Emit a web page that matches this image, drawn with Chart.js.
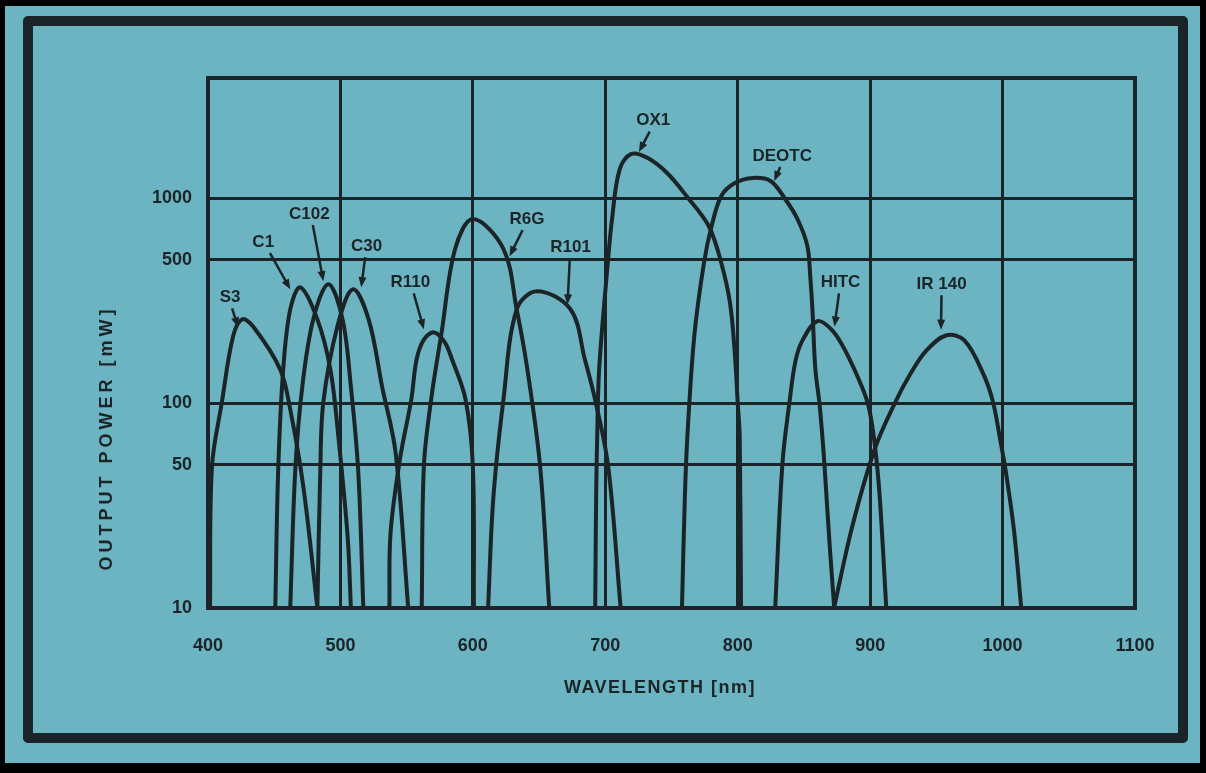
<!DOCTYPE html>
<html>
<head>
<meta charset="utf-8">
<script src="https://cdn.jsdelivr.net/npm/chart.js@4.4.1/dist/chart.umd.min.js"></script>
<style>
    html, body { margin: 0; padding: 0; background: #000; }
    canvas { display: block; }
</style>
</head>
<body>
<canvas id="dye-chart" width="1206" height="773"></canvas>
<script>
// wavelength (nm) and output power (mW)
var S3_NM = [401.5, 403, 410.6, 418.9, 425.8, 434.1, 454.5, 462.1, 472, 482.6];
var S3_MW = [10, 49, 102, 211, 256, 236, 146, 93, 39, 10];

var C1_NM = [450.8, 453.0, 456.8, 462.1, 469.7, 482.6, 492.4, 498.5, 505.5, 507.9];
var C1_MW = [10, 47, 146, 286, 367, 256, 146, 68, 22, 10];

var C102_NM = [462.1, 465.9, 471.2, 479.5, 490.9, 501.6, 507.9, 513.4, 517.3];
var C102_MW = [10, 47, 120, 256, 380, 256, 120, 47, 10];

var C30_NM = [482.6, 484.8, 487.1, 497.7, 509.4, 521.3, 531.5, 541.7, 551.2];
var C30_MW = [10, 47, 101, 236, 359, 256, 120, 57, 10];

var R110_NM = [537.0, 537.8, 544.9, 553.5, 557.5, 563.0, 570.9, 578.7, 584.3, 594.5, 600.0, 600.8];
var R110_MW = [10, 23, 53, 104, 163, 204, 221, 198, 163, 104, 49, 10];

var R6G_NM = [561.4, 563.0, 568.5, 576.4, 586.6, 600, 623.1, 633.1, 640.8, 650.8, 657.7];
var R6G_MW = [10, 49, 104, 221, 564, 789, 564, 286, 151, 49, 10];

var R101_NM = [611.5, 615.4, 623.1, 633.1, 648.5, 673.8, 684.6, 692.3, 702.2, 711.6];
var R101_MW = [10, 34, 104, 286, 351, 286, 163, 104, 49, 10];

var OX1_NM = [692.4, 693.1, 693.9, 695.4, 701.5, 705.1, 710.9, 719.7, 732.1, 746.7, 761.3, 778.1, 787.6, 794.2, 797.8, 800.0, 801.5, 802.5];
var OX1_MW = [10, 35, 69, 147, 451, 790, 1384, 1641, 1567, 1324, 1023, 730, 482, 307, 175, 100, 69, 10];

var DEOTC_NM = [757.9, 760.1, 762.0, 767.2, 774.5, 780.3, 787.6, 797.8, 811.3, 824.8, 835.3, 845.1, 852.6, 854.9, 856.4, 858.6, 861.7, 863.9, 865.4, 869.5, 872.9];
var DEOTC_MW = [10, 35, 69, 212, 482, 730, 1023, 1183, 1253, 1211, 1000, 790, 583, 403, 288, 147, 100, 69, 51, 20, 10];

var HITC_NM = [828.3, 833.8, 839.1, 843.6, 848.9, 860.2, 871.4, 881.2, 894.0, 899.2, 903.6, 907.2, 912.2];
var HITC_MW = [10, 51, 101, 160, 202, 251, 226, 180, 119, 94, 62, 35, 10];

var IR140_NM = [872.7, 886.5, 903.6, 918.0, 930.2, 942.4, 957.6, 971.2, 985.6, 992.8, 998.6, 1002.3, 1008.6, 1014.1];
var IR140_MW = [10, 25, 60, 98, 138, 180, 214, 202, 138, 101, 64, 47, 24, 10];

var WL_MIN = 400, WL_MAX = 1100, WL_STEP = 100;
var POWER_TICKS = [10, 50, 100, 500, 1000];
var POWER_MAX = 3850;

// dye names, where their text sits and where the arrow points (nm, mW)
var DYE_NAMES = ["S3", "C1", "C102", "C30", "R110", "R6G", "R101", "OX1", "DEOTC", "HITC", "IR 140"];
var LABEL_NM = [416.7, 441.7, 476.5, 519.7, 552.8, 640.8, 673.8, 736.2, 833.6, 877.6, 954.0];
var LABEL_MW = [328, 609, 835, 582, 388, 789, 576, 2383, 1603, 388, 380];
var TIP_NM = [422.7, 462.1, 487.1, 515.7, 563.0, 627.7, 671.5, 725.4, 827.6, 873.1, 953.5];
var TIP_MW = [234, 359, 393, 367, 229, 520, 303, 1679, 1211, 236, 228];

var CURVES = [
    [S3_NM, S3_MW], [C1_NM, C1_MW], [C102_NM, C102_MW], [C30_NM, C30_MW],
    [R110_NM, R110_MW], [R6G_NM, R6G_MW], [R101_NM, R101_MW], [OX1_NM, OX1_MW],
    [DEOTC_NM, DEOTC_MW], [HITC_NM, HITC_MW], [IR140_NM, IR140_MW]
];

var INK = "#1b2528";
var PAPER = "#6cb4c2";
var FONT = "'Liberation Sans', Arial, sans-serif";

var datasets = CURVES.map(function (c, i) {
    return {
        label: DYE_NAMES[i],
        data: c[0].map(function (nm, j) { return {x: nm, y: c[1][j]}; }),
        borderColor: INK,
        borderWidth: 4,
        pointRadius: 0,
        fill: false,
        tension: 0.35
    };
});

var paperPlugin = {
    id: "paper",
    beforeDraw: function (chart) {
        var ctx = chart.ctx;
        ctx.save();
        ctx.fillStyle = "#000";
        ctx.fillRect(0, 0, chart.width, chart.height);
        ctx.fillStyle = PAPER;
        ctx.fillRect(5, 6, 1195, 757);
        ctx.strokeStyle = INK;
        ctx.lineWidth = 10;
        ctx.lineJoin = "round";
        ctx.strokeRect(28, 21, 1155, 717);
        ctx.restore();
    },
    afterDraw: function (chart) {
        var ctx = chart.ctx, a = chart.chartArea;
        var xs = chart.scales.x, ys = chart.scales.y;
        ctx.save();
        ctx.strokeStyle = INK;
        ctx.lineWidth = 4;
        ctx.strokeRect(a.left, a.top, a.right - a.left, a.bottom - a.top);

        // axis titles
        ctx.fillStyle = INK;
        ctx.font = "bold 18px " + FONT;
        ctx.textAlign = "center";
        ctx.textBaseline = "middle";
        ctx.letterSpacing = "1.5px";
        ctx.fillText("WAVELENGTH [nm]", 660, 688);
        ctx.save();
        ctx.translate(107, 438);
        ctx.rotate(-Math.PI / 2);
        ctx.letterSpacing = "4px";
        ctx.fillText("OUTPUT POWER [mW]", 0, 0);
        ctx.restore();

        // dye labels with arrows
        ctx.letterSpacing = "0px";
        ctx.font = "bold 17px " + FONT;
        ctx.lineWidth = 2.5;
        DYE_NAMES.forEach(function (name, i) {
            var tx = xs.getPixelForValue(LABEL_NM[i]);
            var ty = ys.getPixelForValue(LABEL_MW[i]);
            var px = xs.getPixelForValue(TIP_NM[i]);
            var py = ys.getPixelForValue(TIP_MW[i]);
            ctx.fillText(name, tx, ty);
            var sx = tx + (px - tx) * 0.25, sy = ty + 11;
            var ang = Math.atan2(py - sy, px - sx);
            ctx.beginPath();
            ctx.moveTo(sx, sy);
            ctx.lineTo(px - 6 * Math.cos(ang), py - 6 * Math.sin(ang));
            ctx.stroke();
            ctx.beginPath();
            ctx.moveTo(px, py);
            ctx.lineTo(px - 10 * Math.cos(ang) + 4 * Math.sin(ang), py - 10 * Math.sin(ang) - 4 * Math.cos(ang));
            ctx.lineTo(px - 10 * Math.cos(ang) - 4 * Math.sin(ang), py - 10 * Math.sin(ang) + 4 * Math.cos(ang));
            ctx.closePath();
            ctx.fill();
        });
        ctx.restore();
    }
};

new Chart(document.getElementById("dye-chart").getContext("2d"), {
    type: "line",
    data: {datasets: datasets},
    plugins: [paperPlugin],
    options: {
        responsive: false,
        animation: false,
        devicePixelRatio: 1,
        layout: {padding: {top: 78, right: 71, left: 0, bottom: 0}},
        plugins: {legend: {display: false}, tooltip: {enabled: false}},
        scales: {
            x: {
                type: "linear",
                min: WL_MIN,
                max: WL_MAX,
                afterFit: function (scale) { scale.height = 773 - 608; },
                ticks: {
                    stepSize: WL_STEP,
                    color: INK,
                    padding: 27,
                    font: {family: FONT, size: 18, weight: "bold"},
                    callback: function (v) { return String(v); }
                },
                grid: {color: INK, lineWidth: 3, drawTicks: false},
                border: {display: false}
            },
            y: {
                type: "logarithmic",
                min: POWER_TICKS[0],
                max: POWER_MAX,
                afterFit: function (scale) { scale.width = 208; },
                afterBuildTicks: function (scale) {
                    scale.ticks = POWER_TICKS.map(function (v) { return {value: v}; });
                },
                ticks: {
                    color: INK,
                    padding: 16,
                    font: {family: FONT, size: 18, weight: "bold"},
                    callback: function (v) { return String(v); }
                },
                grid: {color: INK, lineWidth: 3, drawTicks: false},
                border: {display: false}
            }
        }
    }
});
</script>
</body>
</html>
